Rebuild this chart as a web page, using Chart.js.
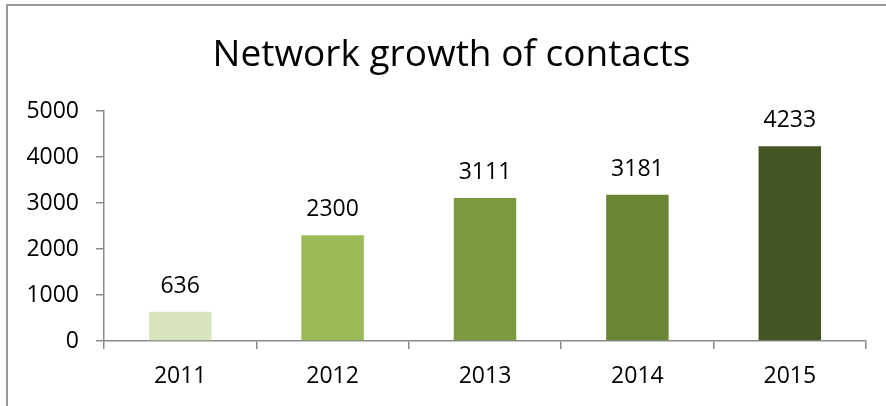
<!DOCTYPE html>
<html>
<head>
<meta charset="utf-8">
<script src="https://cdn.jsdelivr.net/npm/chart.js@4.4.1/dist/chart.umd.min.js"></script>
<style>
  html, body { margin: 0; padding: 0; background: #fff; overflow: hidden; width: 886px; height: 406px; }
  #wrap { position: absolute; left: 0; top: 0; width: 886px; height: 406px; }
  #frame { position: absolute; left: 6px; top: 4px; width: 900px; height: 420px;
           border-top: 2px solid #979797; border-left: 2px solid #979797; pointer-events: none; }
</style>
</head>
<body>
<div id="wrap"><canvas id="c"></canvas></div>
<div id="frame"></div>
<script>
const titleText = "Network growth of contacts";
const categories = ["2011", "2012", "2013", "2014", "2015"];
const contacts = [636, 2300, 3111, 3181, 4233];
const barColors = ["#D7E4BD", "#9BBB59", "#7C9B41", "#6A8535", "#445524"];
const yTicks = [0, 1000, 2000, 3000, 4000, 5000];

const FONT = "'Open Sans', sans-serif";

// Title centred over the full chart frame (which extends past the right edge of the window)
const frameTitle = {
  id: "frameTitle",
  afterDraw(chart) {
    const ctx = chart.ctx;
    ctx.save();
    ctx.font = "37px " + FONT;
    ctx.fillStyle = "#000";
    ctx.textAlign = "center";
    ctx.textBaseline = "alphabetic";
    ctx.fillText(titleText, 451.5, 66);
    ctx.restore();
  }
};

const valueLabels = {
  id: "valueLabels",
  afterDatasetsDraw(chart) {
    const ctx = chart.ctx;
    const meta = chart.getDatasetMeta(0);
    ctx.save();
    ctx.font = "23px " + FONT;
    ctx.fillStyle = "#000";
    ctx.textAlign = "center";
    ctx.textBaseline = "alphabetic";
    meta.data.forEach((bar, i) => {
      ctx.fillText(String(contacts[i]), bar.x, bar.y - 19);
    });
    ctx.restore();
  }
};

new Chart(document.getElementById("c"), {
  type: "bar",
  data: {
    labels: categories,
    datasets: [{
      data: contacts,
      backgroundColor: barColors,
      borderWidth: 0,
      barPercentage: 0.41,
      categoryPercentage: 1.0
    }]
  },
  options: {
    responsive: true,
    maintainAspectRatio: false,
    animation: false,
    events: [],
    layout: { padding: { left: 0, right: 20, top: 111, bottom: 0 } },
    plugins: {
      legend: { display: false },
      tooltip: { enabled: false },
      title: { display: false }
    },
    scales: {
      x: {
        grid: { display: true, drawOnChartArea: false, drawTicks: true, tickLength: 8, color: "#8a8a8a", lineWidth: 1.5, offset: true },
        border: { display: true, color: "#8a8a8a", width: 1.5 },
        ticks: { color: "#000", font: { family: FONT, size: 23 }, padding: 14 },
        afterFit(scale) { scale.height = 65; }
      },
      y: {
        min: 0, max: 5000,
        afterBuildTicks(scale) { scale.ticks = yTicks.map(v => ({ value: v })); },
        grid: { display: true, drawOnChartArea: false, drawTicks: true, tickLength: 8, color: "#8a8a8a", lineWidth: 1.5 },
        border: { display: true, color: "#8a8a8a", width: 1.5 },
        ticks: { color: "#000", font: { family: FONT, size: 23 }, padding: 17, callback: (v) => String(v) },
        afterFit(scale) { scale.width = 104; }
      }
    }
  },
  plugins: [valueLabels, frameTitle]
});
</script>
</body>
</html>
